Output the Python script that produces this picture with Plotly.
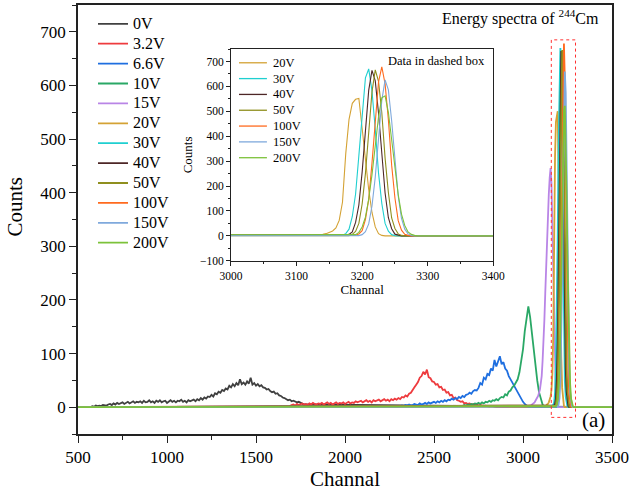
import plotly.graph_objects as go

FONT = "Liberation Serif"

# ---------------- data ----------------
series_labels = ["0V", "3.2V", "6.6V", "10V", "15V", "20V", "30V", "40V",
                 "50V", "100V", "150V", "200V"]
series_colors = ["#404040", "#ee3b3e", "#1f6fe0", "#2aa866", "#b985e6", "#d4a234",
                 "#1fcfd0", "#4d2626", "#8f8f1e", "#ff6a1e", "#7fa9dc", "#7cc23a"]

# first channel and channel step of each recorded series
series_start = [550, 1680, 2300, 2650, 3030, 3130, 3150, 3165, 3170, 3175, 3185, 3185]
series_step = [10, 10, 10, 10, 5, 5, 5, 5, 5, 5, 5, 5]

counts_0V = [0, 1, 0, 2, 1, 3, 2, 3, 2, 4,
             4, 3, 5, 6, 4, 7, 5, 8, 6, 7,
             9, 6, 8, 10, 7, 9, 11, 8, 10, 9,
             11, 8, 12, 9, 10, 13, 9, 11, 8, 12,
             10, 13, 9, 11, 12, 8, 11, 13, 10, 12,
             9, 12, 11, 14, 10, 12, 9, 13, 11, 12,
             14, 11, 15, 13, 17, 14, 18, 16, 20, 19,
             23, 20, 26, 24, 29, 27, 32, 30, 35, 33,
             40, 37, 43, 39, 45, 41, 52, 43, 46, 42,
             48, 44, 55, 42, 45, 40, 43, 39, 41, 37,
             36, 33, 34, 30, 28, 29, 25, 26, 22, 21,
             18, 17, 15, 13, 14, 11, 12, 10, 9, 10,
             8, 6, 5]
counts_3_2V = [3, 2, 4, 5, 3, 6, 4, 5, 7, 5,
               6, 4, 7, 5, 8, 6, 5, 7, 6, 8,
               5, 7, 9, 6, 8, 5, 7, 9, 6, 8,
               7, 9, 6, 8, 10, 7, 9, 8, 11, 9,
               10, 12, 9, 11, 13, 10, 12, 9, 13, 11,
               12, 14, 11, 13, 15, 12, 14, 11, 15, 13,
               16, 14, 17, 15, 19, 18, 22, 20, 25, 27,
               33, 37, 42, 47, 55, 58, 66, 61, 70, 56,
               54, 48, 47, 42, 43, 37, 38, 32, 33, 27,
               28, 22, 23, 17, 18, 13, 12, 10, 11, 7,
               8, 6, 7, 5, 6, 4, 5, 3, 4, 3,
               2, 3, 2, 1, 2, 1, 1, 0]
counts_6_6V = [2, 1, 3, 2, 4, 3, 5, 3, 4, 6,
               5, 4, 7, 5, 6, 8, 6, 9, 7, 8,
               10, 8, 11, 9, 12, 10, 13, 11, 14, 13,
               16, 14, 17, 15, 19, 17, 21, 19, 23, 24,
               27, 25, 30, 32, 31, 36, 45, 42, 55, 52,
               62, 60, 72, 68, 88, 76, 86, 95, 80, 84,
               72, 68, 58, 52, 44, 40, 32, 27, 20, 16,
               10, 6, 3, 0]
counts_10V = [3, 2, 4, 3, 5, 4, 6, 5, 7, 6,
              8, 6, 9, 7, 10, 9, 12, 10, 13, 12,
              15, 13, 17, 19, 18, 24, 22, 29, 31, 37,
              40, 47, 52, 65, 87, 108, 142, 163, 188, 168,
              135, 102, 72, 50, 28, 14, 5, 0]
counts_15V = [1, 2, 3, 2, 5, 6, 8, 9, 12, 14, 18, 21, 27, 33, 45, 58, 86,
              118, 162, 212, 268, 322, 372, 398, 428, 446, 418, 338, 232,
              118, 46, 15, 3, 0]
counts_20V = [3, 5, 6, 9, 14, 20, 32, 62, 135, 330, 468, 532, 548, 552,
              432, 300, 186, 94, 36, 9, 2, 0]
counts_30V = [2, 1, 2, 3, 4, 9, 27, 78, 168, 322, 490, 634, 670, 582, 428,
              252, 130, 50, 19, 5, 1, 0]
counts_40V = [2, 2, 3, 6, 16, 54, 124, 256, 418, 584, 664, 622, 492, 314,
              172, 73, 29, 7, 2, 0]
counts_50V = [1, 2, 1, 6, 18, 50, 128, 250, 424, 578, 666, 620, 494, 312,
              174, 72, 30, 8, 2, 0]
counts_100V = [1, 2, 2, 3, 8, 21, 65, 146, 292, 458, 618, 678, 610, 466,
               284, 152, 61, 23, 6, 2, 0]
counts_150V = [1, 2, 1, 5, 17, 48, 120, 236, 398, 544, 626, 586, 462, 296,
               160, 70, 27, 8, 2, 0]
counts_200V = [2, 5, 14, 36, 75, 148, 245, 368, 478, 554, 562, 496, 393,
               268, 166, 87, 42, 16, 6, 2, 0]

series_counts = [counts_0V, counts_3_2V, counts_6_6V, counts_10V, counts_15V,
                 counts_20V, counts_30V, counts_40V, counts_50V, counts_100V,
                 counts_150V, counts_200V]

# whole spectrum span (flat zero baseline outside the recorded parts)
channel_span = [500, 3500]

inset_labels = ["20V", "30V", "40V", "50V", "100V", "150V", "200V"]

# dashed box (channel / count limits)
box_channels = [3159, 3295]
box_counts = [-19, 685]

# ---------------- figure ----------------
def build(start, step, cnt):
    ch = [channel_span[0]] + [start + i * step for i in range(len(cnt))] + [channel_span[1]]
    return ch, [0] + list(cnt) + [0]


fig = go.Figure()
for lab, col, st, sp, cnt in zip(series_labels, series_colors, series_start,
                                 series_step, series_counts):
    ch, y = build(st, sp, cnt)
    fig.add_trace(go.Scatter(x=ch, y=y, mode="lines",
                             name='<span style="font-size:16px">%s</span>' % lab,
                             line=dict(color=col, width=1.8),
                             xaxis="x", yaxis="y", legend="legend"))

shapes = [dict(type="rect", xref="x", yref="y",
               x0=box_channels[0], x1=box_channels[1],
               y0=box_counts[0], y1=box_counts[1],
               line=dict(color="#ff3030", width=1, dash="dot"))]
annotations = []

# inset traces + compact inset key (drawn in inset-domain units)
k = 0
for lab, col, st, sp, cnt in zip(series_labels, series_colors, series_start,
                                 series_step, series_counts):
    if lab not in inset_labels:
        continue
    ch, y = build(st, sp, cnt)
    fig.add_trace(go.Scatter(x=ch, y=y, mode="lines", name=lab, showlegend=False,
                             line=dict(color=col, width=1.1),
                             xaxis="x2", yaxis="y2"))
    yk = 0.935 - 0.0747 * k
    shapes.append(dict(type="line", xref="x2 domain", yref="y2 domain",
                       x0=0.0305, x1=0.137, y0=yk, y1=yk,
                       line=dict(color=col, width=1.3)))
    annotations.append(dict(text=lab, xref="x2 domain", yref="y2 domain",
                            x=0.151, y=yk, xanchor="left", yanchor="middle",
                            showarrow=False, font=dict(size=12.5, family=FONT)))
    k += 1

annotations += [
    dict(text="Energy spectra of <sup>244</sup>Cm", xref="paper", yref="paper",
         x=0.979, y=0.97, xanchor="right", yanchor="middle", showarrow=False,
         font=dict(size=16, family=FONT)),
    dict(text="Data in dashed box", xref="paper", yref="paper",
         x=0.766, y=0.869, xanchor="right", yanchor="middle", showarrow=False,
         font=dict(size=12.5, family=FONT)),
    dict(text="(a)", xref="paper", yref="paper",
         x=0.966, y=0.0325, xanchor="center", yanchor="middle", showarrow=False,
         font=dict(size=21, family=FONT)),
    dict(text="Counts", xref="paper", yref="paper", textangle=-90,
         x=-0.118, y=0.53, xanchor="center", yanchor="middle", showarrow=False,
         font=dict(size=21, family=FONT)),
]

axis_common = dict(showline=True, linecolor="#222", mirror=True, showgrid=False,
                   zeroline=False, ticks="outside", tickcolor="#222")

fig.update_layout(
    width=636, height=492,
    margin=dict(l=78, r=24, t=3, b=58),
    paper_bgcolor="white", plot_bgcolor="white",
    font=dict(family=FONT, color="black", size=17),
    xaxis=dict(axis_common, domain=[0, 1], range=channel_span, tick0=500, dtick=500,
               ticklen=7, tickwidth=1.3, linewidth=1.5,
               tickfont=dict(size=17),
               title=dict(text="Channal", font=dict(size=21), standoff=4),
               minor=dict(ticks="outside", ticklen=4, tick0=500, dtick=250,
                          tickcolor="#222", showgrid=False)),
    yaxis=dict(axis_common, domain=[0, 1], range=[-50, 750], tick0=0, dtick=100,
               ticklen=7, tickwidth=1.3, linewidth=1.5,
               tickfont=dict(size=17),
               minor=dict(ticks="outside", ticklen=4, tick0=0, dtick=50,
                          tickcolor="#222", showgrid=False)),
    xaxis2=dict(axis_common, domain=[0.2865, 0.7777], anchor="y2", range=[3000, 3400],
                tick0=3000, dtick=100, ticklen=4, tickwidth=1, linewidth=1,
                tickfont=dict(size=11.5),
                title=dict(text="Channal", font=dict(size=13), standoff=0),
                minor=dict(ticks="outside", ticklen=2, tick0=3000, dtick=50,
                           tickcolor="#222", showgrid=False)),
    yaxis2=dict(axis_common, domain=[0.4037, 0.8974], anchor="x2", range=[-100, 750],
                tick0=0, dtick=100, ticklen=4, tickwidth=1, linewidth=1,
                tickfont=dict(size=11.5),
                title=dict(text="Counts", font=dict(size=13), standoff=4),
                minor=dict(ticks="outside", ticklen=2, tick0=0, dtick=50,
                           tickcolor="#222", showgrid=False)),
    legend=dict(x=0.0281, y=0.991, xanchor="left", yanchor="top",
                bgcolor="rgba(0,0,0,0)", font=dict(size=13, family=FONT),
                tracegroupgap=0),
    shapes=shapes,
    annotations=annotations,
)

fig.write_html("out.html")
